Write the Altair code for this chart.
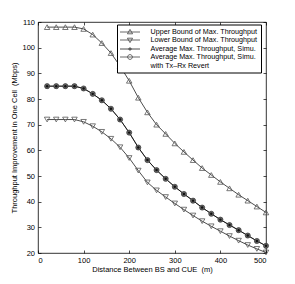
import altair as alt
import pandas as pd

distance = [20, 40, 60, 80, 100, 120, 140, 160, 180, 200, 220, 240, 260,
            280, 300, 320, 340, 360, 380, 400, 420, 440, 460, 480, 500]
upper = [108, 108, 108, 108, 107.3, 105.1, 101.8, 97.9, 92.8, 87.1, 80.5, 74.8, 70.0,
         66.4, 62.7, 59.4, 56.2, 53.1, 50.4, 47.7, 45.2, 42.7, 40.4, 38.1, 35.8]
lower = [72, 72, 72, 72, 71.1, 69.4, 67.2, 64.5, 61.2, 57.0, 52.1, 47.5, 44.4,
         41.8, 39.3, 36.9, 34.6, 32.4, 30.4, 28.5, 26.6, 24.8, 23.1, 21.6, 20.2]
avg = [85, 85, 85, 85, 84.1, 82.0, 79.5, 76.2, 72.0, 66.9, 61.1, 56.2, 52.3,
       48.9, 45.8, 43.0, 40.4, 37.7, 35.3, 33.0, 30.9, 28.9, 26.8, 24.7, 22.8]
avg_revert = [85, 85, 85, 85, 84.1, 82.0, 79.5, 76.2, 72.0, 66.9, 61.1, 56.2, 52.3,
              48.9, 45.8, 43.0, 40.4, 37.7, 35.3, 33.0, 30.9, 28.9, 26.8, 24.7, 22.8]
names = ["Upper Bound of Max. Throughput",
         "Lower Bound of Max. Throughput",
         "Average Max. Throughput, Simu.",
         "Average Max. Throughput, Simu. with Tx\u2013Rx Revert"]
series_values = [upper, lower, avg, avg_revert]
x_ticks = [0, 100, 200, 300, 400, 500]
y_ticks = [20, 30, 40, 50, 60, 70, 80, 90, 100, 110]

rows = []
for name, vals in zip(names, series_values):
    for d, v in zip(distance, vals):
        rows.append({"distance": d, "value": v, "series": name})
df = pd.DataFrame(rows)

FONT = "Liberation Sans"
xs = alt.Scale(domain=[0, 500], nice=False, zero=False)
ys = alt.Scale(domain=[20, 110], nice=False, zero=False)

base = alt.Chart(df)

x_bottom = alt.X("distance:Q", scale=xs, axis=alt.Axis(
    orient="bottom", values=x_ticks, offset=-3, tickSize=3, labelPadding=3,
    domain=False, grid=False, title="Distance Between BS and CUE \u00a0(m)", titlePadding=1.5))
y_left = alt.Y("value:Q", scale=ys, axis=alt.Axis(
    orient="left", values=y_ticks, offset=-3, tickSize=3, labelPadding=3.5,
    domain=False, grid=False, title="Throughput Improvement in One Cell \u00a0(Mbps)",
    titlePadding=3.5))

lines = base.mark_line(color="black", strokeWidth=0.7).encode(
    x=x_bottom, y=y_left, detail="series:N")

def pts(name, **mk):
    return base.transform_filter(alt.datum.series == name).mark_point(**mk).encode(
        x=alt.X("distance:Q", scale=xs, axis=None),
        y=alt.Y("value:Q", scale=ys, axis=None))

p_up = pts(names[0], shape="triangle-up", size=30, filled=False, color="#555", strokeWidth=0.8, opacity=1)
p_dn = pts(names[1], shape="triangle-down", size=30, filled=False, color="#555", strokeWidth=0.8, opacity=1)
p_circ = pts(names[3], shape="circle", size=26, filled=True, fill="#666", stroke="#333", strokeWidth=0.7, opacity=1)
p_dot = pts(names[2], shape="circle", size=6, filled=True, color="#111", opacity=1)

line_path = "M-2.5,0H2.5"
tri_up = "M0,-0.65L0.65,0.45L-0.65,0.45Z"
tri_dn = "M0,0.65L0.65,-0.45L-0.65,-0.45Z"
circ = "M0.6,0A0.6,0.6,0,1,1,-0.6,0A0.6,0.6,0,1,1,0.6,0Z"
dot = "M0.3,0A0.3,0.3,0,1,1,-0.3,0A0.3,0.3,0,1,1,0.3,0Z"
legend_shapes = [line_path + tri_up, line_path + tri_dn, line_path + dot, line_path + circ]

leg = alt.Legend(
    title=None, orient="none", legendX=79, legendY=2.5, padding=3, rowPadding=0,
    strokeColor="black", fillColor="white", cornerRadius=0,
    symbolSize=64, symbolOffset=5.5, labelOffset=16, symbolStrokeWidth=0.8,
    labelFont=FONT, labelFontSize=7.2, labelColor="black", labelLimit=300,
    labelExpr="datum.label == '" + names[3] + "' ? ['Average Max. Throughput, Simu.', 'with Tx\u2013Rx Revert'] : datum.label",
)

legend_layer = base.mark_point(filled=True, opacity=0).encode(
    x=alt.X("distance:Q", scale=xs, axis=alt.Axis(
        orient="top", values=x_ticks, offset=-3, tickSize=3, labels=False,
        domain=False, grid=False, title=None)),
    y=alt.Y("value:Q", scale=ys, axis=alt.Axis(
        orient="right", values=y_ticks, offset=-3, tickSize=3, labels=False,
        domain=False, grid=False, title=None)),
    shape=alt.Shape("series:N", scale=alt.Scale(domain=names, range=legend_shapes), legend=leg),
    stroke=alt.Stroke("series:N", scale=alt.Scale(domain=names, range=["#444", "#444", "#222", "#444"]), legend=leg),
    fill=alt.Fill("series:N", scale=alt.Scale(domain=names, range=["transparent", "transparent", "#111", "transparent"]), legend=leg),
)

chart = alt.layer(lines, p_up, p_dn, p_circ, p_dot, legend_layer).resolve_axis(
    x="independent", y="independent"
).properties(
    width=228, height=231,
    padding={"left": 30, "top": 14, "right": 5, "bottom": 30},
    autosize=alt.AutoSizeParams(type="none"),
).configure_view(
    stroke="black", strokeWidth=0.8
).configure_axis(
    tickColor="black", tickWidth=0.7,
    labelFont=FONT, labelFontSize=7.5, labelColor="black",
    titleFont=FONT, titleFontSize=7.5, titleFontWeight="normal", titleColor="black",
)

chart.save("out.html", embed_options={"renderer": "svg", "actions": False})
